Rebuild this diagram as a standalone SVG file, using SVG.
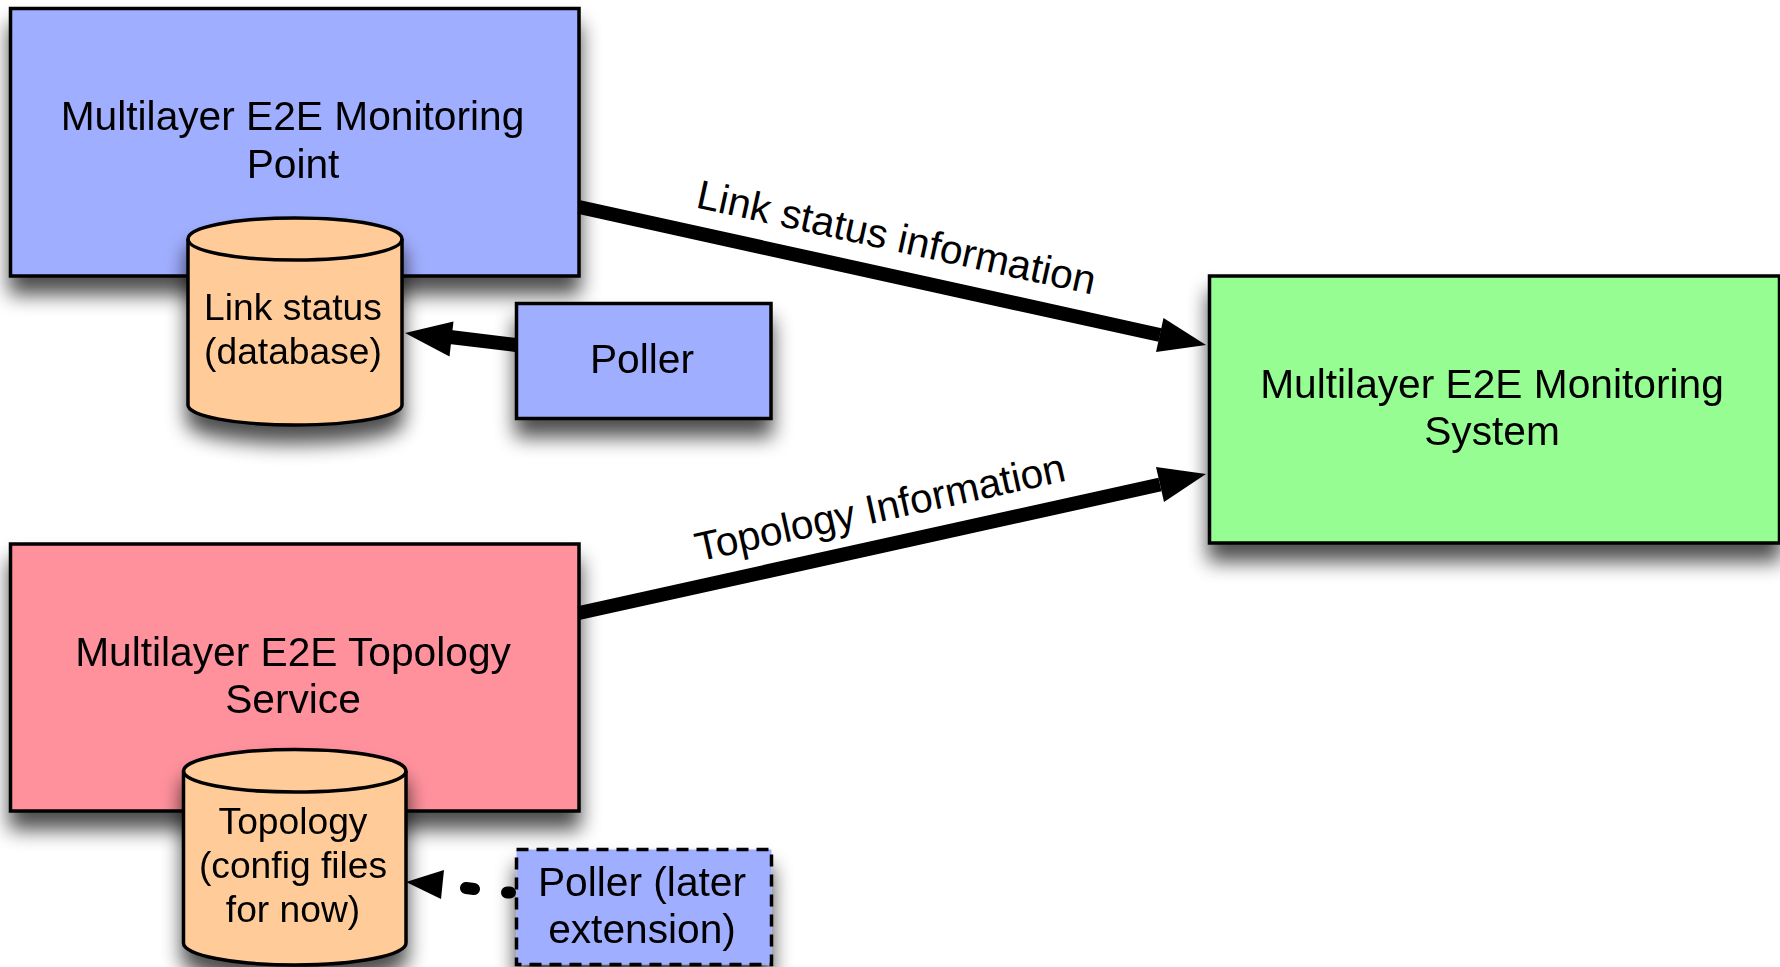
<svg xmlns="http://www.w3.org/2000/svg" width="1780" height="967" viewBox="0 0 1780 967">
<style>
text{font-family:"Liberation Sans",Arial,sans-serif;fill:#000;text-anchor:middle}
.big{font-size:40.7px}
.mid{font-size:37.2px}
.s{stroke:#000;stroke-width:3.5;stroke-linejoin:miter}
.blue{fill:#a0aeff}
.pink{fill:#ff919c}
.green{fill:#95fd91}
.tan{fill:#ffcc99}
.line{stroke:#000;stroke-width:14;fill:none}
.sh{filter:url(#shadow)}
</style>
<defs>
<filter id="shadow" x="-20%" y="-20%" width="140%" height="160%">
<feGaussianBlur in="SourceAlpha" stdDeviation="10"/>
<feOffset dx="0" dy="17"/>
<feComponentTransfer><feFuncA type="linear" slope="0.7"/></feComponentTransfer>
<feMerge><feMergeNode/><feMergeNode in="SourceGraphic"/></feMerge>
</filter>
</defs>
<rect width="1780" height="967" fill="#fff"/>
<g id="monitoring-point" class="sh">
<rect class="s blue" x="10.5" y="8.5" width="568.500" height="267.500"/>
<text class="big" x="292.500" y="130">Multilayer E2E Monitoring</text>
<text class="big" x="293" y="178">Point</text>
</g>
<g id="topology-service" class="sh">
<rect class="s pink" x="10.5" y="544" width="568.500" height="267"/>
<text class="big" x="293" y="666">Multilayer E2E Topology</text>
<text class="big" x="293" y="713">Service</text>
</g>
<g id="monitoring-system" class="sh">
<rect class="s green" x="1209.500" y="276" width="570" height="267"/>
<text class="big" x="1492" y="398">Multilayer E2E Monitoring</text>
<text class="big" x="1492" y="445">System</text>
</g>
<g id="link-status-db" class="sh">
<path class="s tan" d="M188 239V405C188 416 235 425 295 425S402 416 402 405V239C402 227 355 218 295 218S188 227 188 239Z"/>
<path class="s" fill="none" d="M188 239C188 251 235 260 295 260S402 251 402 239"/>
<text class="mid" x="293" y="320">Link status</text>
<text class="mid" x="293" y="364">(database)</text>
</g>
<g id="poller" class="sh">
<rect class="s blue" x="516.500" y="303.500" width="254.500" height="115"/>
<text class="big" x="642" y="373">Poller</text>
</g>
<g id="topology-db" class="sh">
<path class="s tan" d="M183.500 771V943C183.500 955 233 965 295 965S406 955 406 943V771C406 759 356 749.500 295 749.500S183.500 759 183.500 771Z"/>
<path class="s" fill="none" d="M183.500 771C183.500 783 233 792 295 792S406 783 406 771"/>
<text class="mid" x="293" y="834">Topology</text>
<text class="mid" x="293" y="878">(config files</text>
<text class="mid" x="293" y="922">for now)</text>
</g>
<g id="poller-later" class="sh">
<rect class="s blue" x="516.500" y="849.500" width="255" height="115" stroke-dasharray="12 8"/>
<text class="big" x="642" y="896">Poller (later</text>
<text class="big" x="642" y="943">extension)</text>
</g>
<g id="connectors">
<path class="line" d="M579 207L1160 335"/>
<path d="M1206 345L1163.500 318L1156 352Z"/>
<path class="line" d="M579 613L1160 484.500"/>
<path d="M1206 474L1156 467L1164 502Z"/>
<path class="line" d="M516 345L450 337"/>
<path d="M405 333L453.500 321.500L449.500 356.500Z"/>
<path class="line" stroke-linecap="round" stroke-width="12" style="stroke-width:12" d="M510 892.500H507M474 889L466 888"/>
<path d="M406 882L444 870L441 899Z"/>
</g>
<g id="labels">
<text class="big" transform="translate(893.500 251) rotate(12.4)">Link status information</text>
<text class="big" transform="translate(883 521) rotate(-12.4)">Topology Information</text>
</g>
</svg>
